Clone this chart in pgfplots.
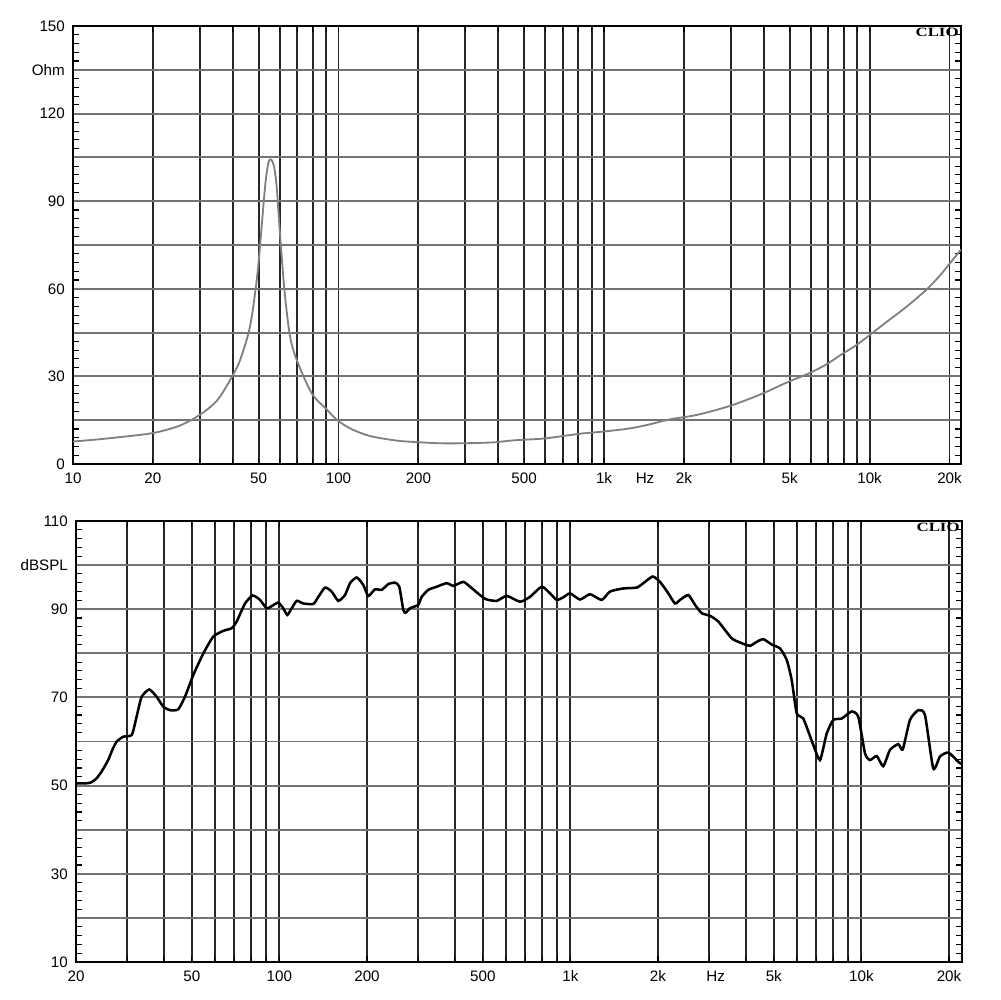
\documentclass[border=0pt]{standalone}
\usepackage{graphicx}
\usepackage{pgfplots}
\pgfplotsset{compat=1.18}
\usepackage{fontspec}
\setmainfont{Liberation Sans}
\newfontfamily\cliofont{Liberation Serif}
\begin{document}
\begin{tikzpicture}[x=1cm,y=1cm]
\path[use as bounding box, fill=white] (0,0) rectangle (25,25);
% ---------------- Impedance ----------------
\begin{axis}[
  xmode=log, scale only axis,
  axis line style={line width=1.6pt, black},
  tick label style={font=\fontsize{10.8}{12}\selectfont, black},
  xmajorgrids=false, xminorgrids=true, ymajorgrids=true,
  minor x grid style={line width=1.35pt, black!85},
  major y grid style={line width=1.35pt, black!55},
  major tick length=0pt,
  minor tick length=0.16cm,
  minor tick style={line width=0.8pt, black},
  tick align=inside,
  xticklabel style={yshift=-0.1cm},
  yticklabel style={xshift=-0.08cm},
  at={(1.825cm,13.4cm)}, anchor=south west,
  width=22.2cm, height=10.95cm,
  xmin=10, xmax=22100, ymin=0, ymax=150,
  xtick={10,20,50,100,200,500,1000,1427,2000,5000,10000,20000},
  xticklabels={10,20,50,100,200,500,1k,Hz,2k,5k,10k,20k},
  minor xtick={20,30,40,50,60,70,80,90,100,200,300,400,500,600,700,800,900,1000,2000,3000,4000,5000,6000,7000,8000,9000,10000,20000},
  ytick={0,15,30,45,60,75,90,105,120,135,150},
  yticklabels={0,,30,,60,,90,,120,Ohm,150},
  minor y tick num=4,
]
\addplot[black!50, line width=1.3pt, smooth, tension=0.5] coordinates {
(10,7.7) (12,8.3) (15,9.2) (20,10.6) (25,13.0) (30,16.8) (35,21.9)
(39.7,29.9) (42.6,35.6) (46.4,47.0) (49.2,63.0) (50.6,74.4) (52.9,95.0)
(54.4,103) (55.7,104.3) (57.2,101.8) (58.5,95.0) (59.8,82.4) (61.1,71.0)
(62.9,57.3) (65.7,43.6) (69.6,35.6) (79.3,24.2) (90,18.8) (98.4,15.2)
(110.5,12.2) (131,9.6) (166,8.0) (197,7.5) (241,7.1) (295,7.1) (383,7.4)
(443,8.0) (497,8.3) (591,8.7) (703,9.6) (836,10.5) (994,11.1) (1253,12.2)
(1490,13.6) (1773,15.3) (2234,16.8) (2983,19.9) (3926,24.0) (4903,28.0)
(5933,31.1) (6901,34.2) (7857,37.6) (8818,40.4) (9761,43.4) (11610,48.7)
(13800,53.9) (16420,59.8) (18430,64.6) (19530,67.4) (21780,72.7) (22100,73.4)
};
\node[anchor=north east, inner sep=1.5pt, font=\cliofont\bfseries\fontsize{9}{10}\selectfont] at (rel axis cs:1,1) {\scalebox{1.33}[1]{CLIO}};
\end{axis}
% ---------------- SPL ----------------
\begin{axis}[
  xmode=log, scale only axis,
  axis line style={line width=1.6pt, black},
  tick label style={font=\fontsize{10.8}{12}\selectfont, black},
  xmajorgrids=false, xminorgrids=true, ymajorgrids=true,
  minor x grid style={line width=1.35pt, black!85},
  major y grid style={line width=1.35pt, black!55},
  major tick length=0pt,
  minor tick length=0.16cm,
  minor tick style={line width=0.8pt, black},
  tick align=inside,
  xticklabel style={yshift=-0.1cm},
  yticklabel style={xshift=-0.08cm},
  at={(1.9cm,0.95cm)}, anchor=south west,
  width=22.15cm, height=11.025cm,
  xmin=20, xmax=22170, ymin=10, ymax=110,
  xtick={20,50,100,200,500,1000,2000,3158,5000,10000,20000},
  xticklabels={20,50,100,200,500,1k,2k,Hz,5k,10k,20k},
  minor xtick={30,40,50,60,70,80,90,100,200,300,400,500,600,700,800,900,1000,2000,3000,4000,5000,6000,7000,8000,9000,10000,20000},
  ytick={10,20,30,40,50,60,70,80,90,100,110},
  yticklabels={10,,30,,50,,70,,90,dBSPL,110},
  minor y tick num=4,
]
\addplot[black, line width=1.8pt, smooth, tension=0.35] coordinates {
(20,50.5) (21.5,50.5) (22.5,50.7) (23.5,51.6) (24.5,53.2) (25.8,55.8)
(26.7,58.2) (27.6,60.0) (29.1,61.1) (31.1,61.5) (32.3,65.6) (33.6,70.1)
(35.7,71.8) (37.9,70.1) (39.9,67.9) (42.1,67.1) (44.9,67.3) (47.4,70.2)
(50.6,75.1) (54.8,80.0) (59.3,83.8) (64.2,85.1) (68.6,85.7) (71.3,87.2)
(76.2,91.3) (81.0,93.1) (85.8,92.1) (90.4,90.2) (94.1,90.7) (99.1,91.5)
(103.1,90.2) (106.5,88.7) (110.2,90.2) (114.7,91.9) (120.8,91.3)
(130.8,91.2) (136.1,92.8) (143.5,94.9) (151.2,94.0) (159.4,91.9)
(168.0,93.2) (174.9,95.9) (184.4,97.2) (194.2,95.5) (202.1,93.0)
(213,94.5) (224.7,94.4) (236.8,95.7) (249.7,96.0) (258.2,95.1)
(266.6,89.8) (271.6,89.2) (281,90.2) (300.2,91.0) (308.3,92.8) (325,94.4)
(347.2,95.1) (375.8,95.9) (396,95.3) (428.5,96.2) (451.9,95.1) (489,93.2)
(515.7,92.2) (558.3,91.9) (604.3,93.0) (671.4,91.7) (726.4,92.8)
(796.8,95.1) (851.2,93.6) (897.5,92.1) (945.4,92.7) (996.9,93.6)
(1079,92.2) (1168,93.4) (1281,92.1) (1368,94.0) (1520,94.7) (1691,94.9)
(1781,95.9) (1918,97.4) (2032,96.2) (2170,93.6) (2288,91.3) (2380,92.1)
(2542,93.2) (2680,91.0) (2826,89.1) (3018,88.5) (3224,87.2) (3584,83.4)
(3878,82.3) (4142,81.7) (4368,82.6) (4602,83.2) (4918,82.0) (5252,81.1)
(5538,78.5) (5762,73.9) (5994,66.4) (6316,65.2) (6836,59.2) (7208,55.8)
(7600,61.8) (8008,64.9) (8558,65.2) (9260,66.8) (9758,65.6) (10290,57.3)
(10700,55.8) (11290,56.7) (11890,54.4) (12540,58.1) (13390,59.4)
(13870,58.2) (14690,64.9) (15690,67.1) (16540,66.0) (17660,53.9)
(18630,56.6) (19900,57.5) (21530,55.4) (22170,54.8)
};
\node[anchor=north east, inner sep=1.5pt, font=\cliofont\bfseries\fontsize{9}{10}\selectfont] at (rel axis cs:1,1) {\scalebox{1.33}[1]{CLIO}};
\end{axis}
\end{tikzpicture}
\end{document}
